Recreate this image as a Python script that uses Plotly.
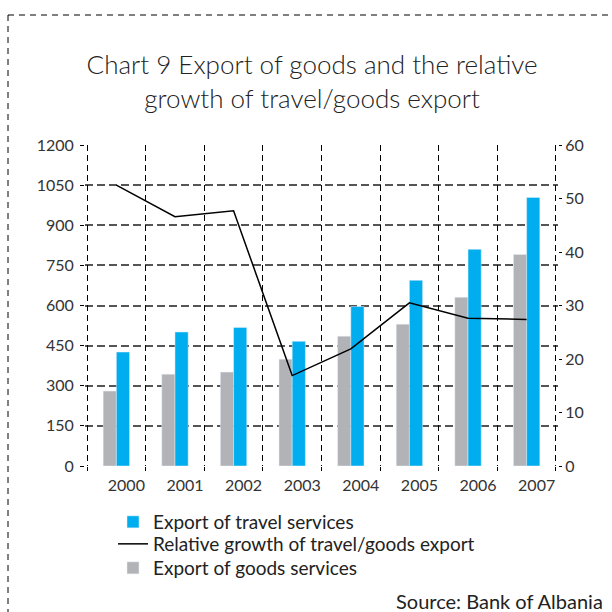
import plotly.graph_objects as go

years = ["2000", "2001", "2002", "2003", "2004", "2005", "2006", "2007"]
travel_export = [426, 501, 518, 466, 596, 694, 810, 1004]
goods_export = [280, 343, 351, 399, 485, 530, 631, 791]
relative_growth = [52.5, 46.6, 47.7, 16.9, 21.9, 30.5, 27.6, 27.4]

left_ticks = [0, 150, 300, 450, 600, 750, 900, 1050, 1200]
right_ticks = [0, 10, 20, 30, 40, 50, 60]

x_pos = list(range(len(years)))
boundaries = [i - 0.5 for i in range(len(years) + 1)]
x_range = [-0.535, 7.535]

FONT = "Lato"
BLUE = "#00AEEF"
GREY = "#B1B3B6"

L, R, T, B = 85, 54, 145, 146
W = 612 - L - R
H = 612 - T - B

def px_x(p):
    return (p - L) / W

def px_y(p):
    return (612 - B - p) / H

fig = go.Figure()
fig.add_trace(go.Bar(x=x_pos, y=goods_export, name="Export of goods services",
                     marker_color=GREY, legend="legend3"))
fig.add_trace(go.Bar(x=x_pos, y=travel_export, name="Export of travel services",
                     marker_color=BLUE, legend="legend"))
fig.add_trace(go.Scatter(x=x_pos, y=relative_growth, yaxis="y2", mode="lines",
                         name="Relative growth of travel/goods export",
                         line=dict(color="black", width=1.5), legend="legend2"))
# invisible trace carrying the vertical category grid
fig.add_trace(go.Scatter(x=[boundaries[0], boundaries[-1]], y=[None, None], xaxis="x2",
                         showlegend=False, hoverinfo="skip"))

def legend_at(ypix):
    return dict(x=px_x(113), y=px_y(ypix), xanchor="left", yanchor="middle",
                orientation="v", bgcolor="rgba(0,0,0,0)", itemwidth=30,
                tracegroupgap=0, font=dict(family=FONT, size=19, color="#222222"))

fig.update_layout(
    width=612, height=612,
    margin=dict(l=L, r=R, t=T, b=B, pad=0, autoexpand=False),
    paper_bgcolor="white", plot_bgcolor="white",
    font=dict(family=FONT, color="#333333", size=16),
    barmode="group", bargap=0.55, bargroupgap=0,
    title=dict(text="Chart 9 Export of goods and the relative<br>growth of travel/goods export",
               x=0.51, xanchor="center", xref="container",
               y=(612 - 74) / 612, yanchor="top", yref="container",
               font=dict(family=FONT, size=26, color="#222222", weight=300)),
    xaxis=dict(range=x_range, tickmode="array", tickvals=x_pos, ticktext=years,
               showgrid=False, zeroline=False, showline=False, ticks="",
               ticklabelshift=10, ticklabelstandoff=8,
               tickfont=dict(size=16, color="#333333")),
    xaxis2=dict(range=x_range, overlaying="x", side="bottom", tickmode="array",
                tickvals=boundaries, showticklabels=False, showgrid=True,
                gridcolor="black", gridwidth=1, griddash="6px,4px",
                ticks="outside", ticklen=4, tickcolor="black", zeroline=False, showline=False),
    yaxis=dict(range=[0, 1200], tickmode="array", tickvals=left_ticks,
               showgrid=True, gridcolor="#555555", gridwidth=1.5, griddash="8px,4px",
               zeroline=False, showline=False, ticks="outside", ticklen=4,
               tickcolor="black", ticklabelstandoff=3,
               tickfont=dict(size=16, color="#333333")),
    yaxis2=dict(range=[0, 60], tickmode="array", tickvals=right_ticks, overlaying="y",
                side="right", showgrid=False, zeroline=False, showline=False,
                ticks="outside", ticklen=3, tickcolor="black", ticklabelstandoff=0,
                tickfont=dict(size=16, color="#333333")),
    legend=legend_at(522),
    legend2=legend_at(544),
    legend3=legend_at(568),
    showlegend=True,
    annotations=[dict(text="Source: Bank of Albania", xref="paper", yref="paper",
                      x=px_x(605), y=px_y(601), xanchor="right", yanchor="middle",
                      showarrow=False, font=dict(family=FONT, size=20, color="#222222"))],
    shapes=[
        dict(type="line", xref="paper", yref="paper", x0=px_x(8), y0=px_y(15),
             x1=px_x(620), y1=px_y(15), line=dict(color="black", width=1, dash="6px,5px")),
        dict(type="line", xref="paper", yref="paper", x0=px_x(8), y0=px_y(15),
             x1=px_x(8), y1=px_y(620), line=dict(color="black", width=1, dash="6px,5px")),
    ],
)

fig.write_html("out.html", config={"displayModeBar": False},
               post_script="document.body.style.margin='0px';")
